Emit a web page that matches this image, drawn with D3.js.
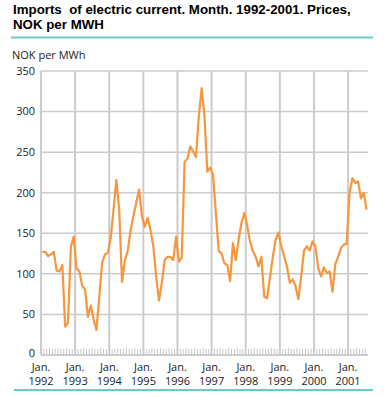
<!DOCTYPE html>
<html lang="en">
<head>
    <meta charset="UTF-8"/>
    <title>Imports of electric current</title>
    <script src="https://cdn.jsdelivr.net/npm/d3@7"></script>
    <style>
        html, body {
            margin: 0;
            background: white;
        }

        text {
            font-family: "Open Sans", "Noto Sans", sans-serif;
            fill: #222;
        }

        text.title {
            font-family: "Liberation Sans", Arial, sans-serif;
            white-space: pre;
        }
    </style>
</head>
<body>
<div id="container"></div>

<script>
    // monthly prices, Jan 1992 .. Jul 2001 (NOK per MWh)
    const prices = [
        127, 127, 122, 124, 127, 104, 103, 111, 35, 40, 133, 146,
        107, 103, 85, 81, 47, 61, 44, 31, 72, 114, 124, 126,
        144, 179, 216, 179, 90, 117, 128, 154, 171, 188, 204, 171,
        158, 169, 154, 134, 97, 67, 89, 117, 121, 121, 117, 146,
        115, 120, 238, 242, 257, 251, 244, 294, 329, 294, 226, 231,
        222, 175, 128, 125, 113, 111, 91, 138, 117, 142, 163, 175,
        160, 140, 128, 121, 109, 121, 72, 70, 95, 120, 142, 151,
        134, 122, 109, 89, 93, 85, 69, 97, 129, 134, 129, 140,
        134, 107, 97, 108, 101, 103, 78, 112, 121, 132, 136, 137,
        200, 218, 212, 214, 193, 200, 179
    ]
    const yTicks = [0, 50, 100, 150, 200, 250, 300, 350]
    const yearLabels = ["1992", "1993", "1994", "1995", "1996", "1997", "1998", "1999", "2000", "2001"]
    const titleLines = ["Imports  of electric current. Month. 1992-2001. Prices,", "NOK per MWH"]

    const width = 385
    const height = 397
    const margin = {left: 41, right: 17, top: 71, bottom: 42}

    const svg = d3.select("#container")
        .append("svg")
        .attr("width", width)
        .attr("height", height)

    const x = d3.scaleLinear()
        .domain([0, 115])
        .range([margin.left, width - margin.right])

    const y = d3.scaleLinear()
        .domain([0, 350])
        .range([height - margin.bottom, margin.top])

    // title
    svg.append("g")
        .selectAll("text")
        .data(titleLines)
        .join("text")
        .attr("class", "title")
        .attr("x", 13)
        .attr("y", (d, i) => 14 + i * 14.5)
        .attr("font-size", "13.3px")
        .attr("font-weight", "bold")
        .style("fill", "#000")
        .text(d => d)

    svg.append("line")
        .attr("x1", 11).attr("x2", 373)
        .attr("y1", 37.5).attr("y2", 37.5)
        .attr("stroke", "#6cc9c5")
        .attr("stroke-width", 2)

    svg.append("text")
        .attr("x", 12)
        .attr("y", 59)
        .attr("font-size", "11px")
        .text("NOK per MWh")

    // horizontal gridlines
    svg.append("g")
        .selectAll("line")
        .data(yTicks.filter(d => d > 0))
        .join("line")
        .attr("x1", x(0)).attr("x2", x(115))
        .attr("y1", d => y(d)).attr("y2", d => y(d))
        .attr("stroke", "#cccccc")
        .attr("stroke-width", 1.5)

    // vertical gridlines at each January
    svg.append("g")
        .selectAll("line")
        .data(yearLabels.map((d, i) => i * 12))
        .join("line")
        .attr("x1", d => x(d)).attr("x2", d => x(d))
        .attr("y1", y(350)).attr("y2", y(0))
        .attr("stroke", "#cccccc")
        .attr("stroke-width", 2)

    // monthly minor ticks
    svg.append("g")
        .selectAll("line")
        .data(d3.range(1, 115).filter(m => m % 12 !== 0))
        .join("line")
        .attr("x1", d => x(d)).attr("x2", d => x(d))
        .attr("y1", d => y(0) - (d % 3 === 0 ? 7 : 6)).attr("y2", y(0))
        .attr("stroke", "#c8c8c8")
        .attr("stroke-width", 1)

    // baseline
    svg.append("line")
        .attr("x1", x(0)).attr("x2", x(115))
        .attr("y1", y(0)).attr("y2", y(0))
        .attr("stroke", "#cccccc")
        .attr("stroke-width", 2)

    // y tick labels
    svg.append("g")
        .selectAll("text")
        .data(yTicks)
        .join("text")
        .attr("x", 35)
        .attr("y", d => y(d))
        .attr("dy", d => d === 0 ? "0.2em" : "0.35em")
        .attr("text-anchor", "end")
        .attr("font-size", "11px")
        .text(d => d)

    // x tick labels
    const xl = svg.append("g")
        .selectAll("text")
        .data(yearLabels)
        .join("text")
        .attr("text-anchor", "middle")
        .attr("font-size", "11px")
    xl.append("tspan")
        .attr("x", (d, i) => x(i * 12))
        .attr("y", 371)
        .text("Jan.")
    xl.append("tspan")
        .attr("x", (d, i) => x(i * 12))
        .attr("y", 385)
        .text(d => d)

    svg.append("line")
        .attr("x1", 14).attr("x2", 373)
        .attr("y1", 390).attr("y2", 390)
        .attr("stroke", "#6cc9c5")
        .attr("stroke-width", 2)

    // price line, each month at its middle
    const line = d3.line()
        .x((d, i) => x(i + 0.5))
        .y(d => y(d))

    svg.append("path")
        .datum(prices)
        .attr("d", line)
        .attr("fill", "none")
        .attr("stroke", "#f7963c")
        .attr("stroke-width", 2.2)
        .attr("stroke-linejoin", "round")
</script>
</body>
</html>
